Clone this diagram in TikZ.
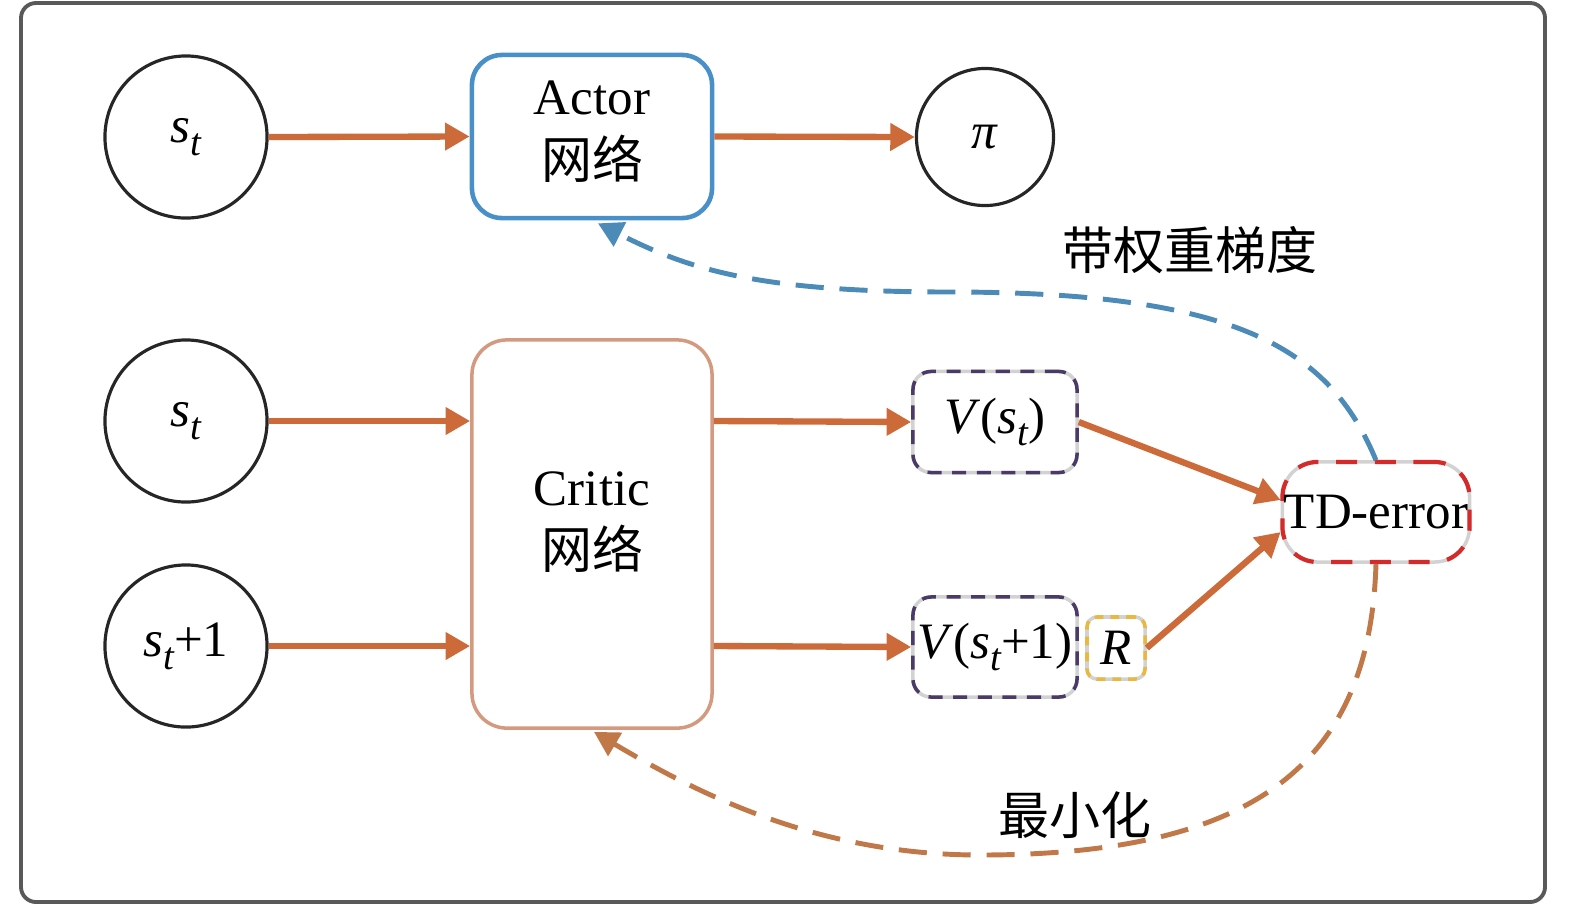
\documentclass[tikz,border=0pt]{standalone}
\usepackage{fontspec}
\setmainfont{Liberation Serif}
\newfontfamily\cjk{Noto Sans CJK SC}
\usetikzlibrary{arrows.meta,calc}
\definecolor{arr}{HTML}{CD6A3A}
\definecolor{actb}{HTML}{4A90C8}
\definecolor{critb}{HTML}{D39A80}
\definecolor{purp}{HTML}{4A3A68}
\definecolor{gold}{HTML}{E8B840}
\definecolor{tdred}{HTML}{D42A2A}
\definecolor{bluedashc}{HTML}{4C8AB8}
\definecolor{browndashc}{HTML}{C07848}
\newcommand{\sub}[1]{\raisebox{-0.55ex}{\fontsize{11pt}{11pt}\selectfont\itshape #1}}
\begin{document}
\begin{tikzpicture}[x=0.01cm,y=-0.01cm,
  txt/.style={font=\fontsize{14.5pt}{16pt}\selectfont},
  circ/.style={circle,draw=black!85,line width=0.9pt,minimum size=1.62cm,inner sep=0pt,txt},
  flow/.style={draw=arr,line width=1.8pt,-{Triangle[length=7pt,width=7.5pt]}},
  vbox/.style={rectangle,rounded corners=0.18cm,draw=gray!35,line width=1pt,
     postaction={draw=purp,dash pattern=on 4pt off 3pt},inner sep=0pt,txt},
]
\useasboundingbox (0,0) rectangle (1575,908);
\draw[draw=gray!70!black,line width=1.1pt,rounded corners=0.15cm] (21,3) rectangle (1545,902);

\node[circ] (s1) at (186,137) {\textit{s}\sub{t}};
\node[circ,minimum size=1.37cm] (pi) at (985,137) {\textit{π}};
\node[circ] (s2) at (186,421) {\textit{s}\sub{t}};
\node[circ] (s3) at (186,646) {\textit{s}\sub{t}+1};

\node[rectangle,rounded corners=0.3cm,draw=actb,line width=1.3pt,minimum width=2.4cm,minimum height=1.63cm,inner sep=0pt] (actor) at (592,136.5) {};
\node[txt,align=center,inner sep=0pt] (acttxt) at ($(actor.center)+(0,-5)$) {Actor\\[2pt]{\cjk 网络}};
\node[rectangle,rounded corners=0.35cm,draw=critb,line width=1pt,minimum width=2.4cm,minimum height=3.88cm,inner sep=0pt] (critic) at (592,534) {};
\node[txt,align=center,inner sep=0pt] (crittxt) at ($(critic.center)+(0,-12)$) {Critic\\[2pt]{\cjk 网络}};

\node[vbox,minimum width=1.64cm,minimum height=1.01cm] (v1) at (995,422) {\textit{V}(\textit{s}\sub{t})};
\node[vbox,minimum width=1.64cm,minimum height=1.0cm] (v2) at (995,647) {\textit{V}(\textit{s}\sub{t}+1)};
\node[rectangle,rounded corners=0.1cm,draw=gray!35,line width=1pt,
  postaction={draw=gold,dash pattern=on 2.5pt off 2pt},minimum width=0.58cm,minimum height=0.62cm,inner sep=0pt,txt] (r) at (1116,648) {\textit{R}};
\node[rectangle,rounded corners=0.35cm,draw=gray!35,line width=1pt,
  postaction={draw=tdred,line width=1.2pt,dash pattern=on 6pt off 5pt},minimum width=1.87cm,minimum height=1.0cm,inner sep=0pt,txt] (td) at (1376,512) {TD-error};

\draw[flow] (s1.east) -- (actor.west);
\draw[flow] (actor.east) -- (pi.west);
\draw[flow] (s2.east) -- (s2.east -| critic.west);
\draw[flow] (s3.east) -- (s3.east -| critic.west);
\draw[flow] (s2.east -| critic.east) -- (v1.west);
\draw[flow] (s3.east -| critic.east) -- (v2.west);
\draw[flow] (v1.east) -- ($(td.west)+(0,-12)$);
\draw[flow] (r.east) -- ($(td.west)+(0,20)$);

\coordinate (a1) at ($(actor.south)+(6,3)$);
\coordinate (c1) at ($(critic.south)+(2,2)$);
\draw[draw=bluedashc,line width=1.4pt,dash pattern=on 8pt off 4.5pt,-{Triangle[length=7pt,width=7.5pt]}]
  (td.north) .. controls (1330,350) and (1240,292) .. (950,292)
  .. controls (760,292) and (690,270) .. (a1);
\draw[draw=browndashc,line width=1.4pt,dash pattern=on 8pt off 4.5pt,-{Triangle[length=7pt,width=7.5pt]}]
  (td.south) .. controls (1370,760) and (1260,855) .. (980,855)
  .. controls (820,855) and (700,795) .. (c1);

\node[txt,font=\cjk\fontsize{14.5pt}{17pt}\selectfont] (l1) at (1190,250) {带权重梯度};
\node[txt,font=\cjk\fontsize{14.5pt}{17pt}\selectfont] (l2) at (1075,815) {最小化};
\end{tikzpicture}
\end{document}
